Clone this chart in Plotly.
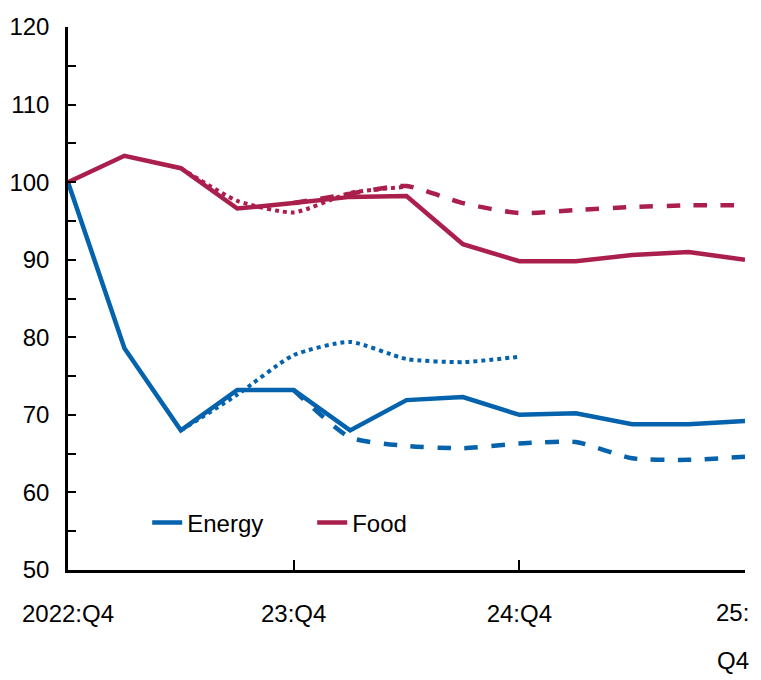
import plotly.graph_objects as go

quarters = list(range(13))  # 2022:Q4 .. 2025:Q4
tick_pos = [0, 4, 8, 12]
tick_text = ["2022:Q4", "23:Q4", "24:Q4", ""]
last_tick_lines = ["25:", "Q4"]

energy_actual = [100.0, 78.6, 68.0, 73.2, 73.2, 68.0, 71.9, 72.3, 70.0, 70.2, 68.8, 68.8, 69.2]
energy_dashed_x = [4, 5, 6, 7, 8, 9, 10, 11, 12]
energy_dashed = [73.2, 67.1, 66.0, 65.7, 66.3, 66.5, 64.4, 64.2, 64.6]
energy_dotted_x = [2, 3, 4, 5, 6, 7, 8]
energy_dotted = [68.0, 72.6, 77.7, 79.4, 77.2, 76.8, 77.5]

food_actual = [100.0, 103.4, 101.8, 96.6, 97.3, 98.1, 98.2, 92.0, 89.8, 89.8, 90.6, 91.0, 90.0]
food_dashed_x = [4, 5, 6, 7, 8, 9, 10, 11, 12]
food_dashed = [97.3, 98.5, 99.5, 97.3, 96.0, 96.4, 96.8, 97.0, 97.0]
food_dotted_x = [2, 3, 4, 5, 6]
food_dotted = [101.8, 97.6, 96.1, 98.6, 99.4]

BLUE = "#0562AC"
RED = "#AB1F4D"
FONT = "Liberation Sans, Arial, sans-serif"
FS = 24

fig = go.Figure()
fig.add_trace(go.Scatter(x=energy_dotted_x, y=energy_dotted, mode="lines", showlegend=False,
                         line=dict(color=BLUE, width=4, dash="dot", shape="spline", smoothing=0.6)))
fig.add_trace(go.Scatter(x=energy_dashed_x, y=energy_dashed, mode="lines", showlegend=False,
                         line=dict(color=BLUE, width=4.5, dash="dash", shape="spline", smoothing=0.6)))
fig.add_trace(go.Scatter(x=food_dotted_x, y=food_dotted, mode="lines", showlegend=False,
                         line=dict(color=RED, width=4, dash="dot", shape="spline", smoothing=0.6)))
fig.add_trace(go.Scatter(x=food_dashed_x, y=food_dashed, mode="lines", showlegend=False,
                         line=dict(color=RED, width=4.5, dash="dash", shape="spline", smoothing=0.6)))
fig.add_trace(go.Scatter(x=quarters, y=energy_actual, mode="lines", name="Energy",
                         line=dict(color=BLUE, width=4.5)))
fig.add_trace(go.Scatter(x=quarters, y=food_actual, mode="lines", name="Food",
                         line=dict(color=RED, width=4.5)))

for line_text, shift in zip(last_tick_lines, [-42, -90]):
    fig.add_annotation(x=quarters[-1], y=0, xref="x", yref="paper", text=line_text,
                       showarrow=False, xanchor="right", yanchor="middle", align="right",
                       xshift=6, yshift=shift, font=dict(size=FS))

fig.update_layout(
    width=753, height=672,
    margin=dict(l=60, r=16, t=19, b=110),
    plot_bgcolor="white", paper_bgcolor="white",
    font=dict(family=FONT, size=FS, color="black"),
    showlegend=True,
    legend=dict(orientation="h", x=0.117, y=0.0866, xanchor="left", yanchor="middle",
                bgcolor="rgba(0,0,0,0)", font=dict(size=FS), entrywidth=120, entrywidthmode="pixels"),
    xaxis=dict(range=[0, 12], tickmode="array", tickvals=tick_pos, ticktext=tick_text,
               showline=True, linecolor="black", linewidth=2.5, ticks="inside", ticklen=10,
               tickwidth=2, tickcolor="black", showgrid=False, zeroline=False,
               ticklabelstandoff=20, ticklabeloverflow="allow", automargin=False),
    yaxis=dict(range=[50, 120], tickmode="array", tickvals=[50, 60, 70, 80, 90, 100, 110, 120],
               showline=True, linecolor="black", linewidth=2.5, ticks="inside", ticklen=8,
               tickwidth=2, tickcolor="black", showgrid=False, zeroline=False,
               ticklabelstandoff=11, ticklabeloverflow="allow", automargin=False,
               minor=dict(tickmode="array", tickvals=[55, 65, 75, 85, 95, 105, 115],
                          ticks="inside", ticklen=8, tickwidth=2, tickcolor="black")),
)

fig.write_html("out.html")
